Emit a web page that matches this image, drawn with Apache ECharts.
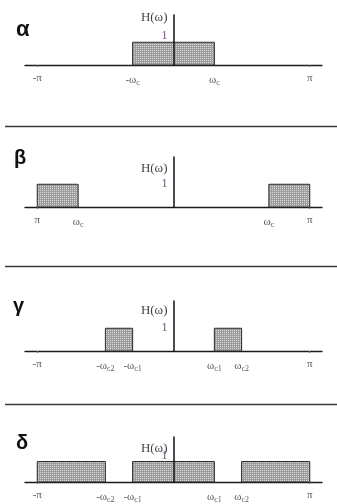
<!DOCTYPE html>
<html><head><meta charset="utf-8">
<script src="https://cdn.jsdelivr.net/npm/echarts@6/dist/echarts.min.js"></script>
<style>html,body{margin:0;padding:0;background:#fff}#c{width:337px;height:504px}</style>
</head><body><div id="c"></div>
<script>
// Values in units of π (x) and gain (y)
const panelNames = ['α', 'β', 'γ', 'δ'];
const bandsA = [[-0.3, 0.3, 1]];
const bandsB = [[-1, -0.7, 1], [0.7, 1, 1]];
const bandsC = [[-0.5, -0.3, 1], [0.3, 0.5, 1]];
const bandsD = [[-1, -0.5, 1], [-0.3, 0.3, 1], [0.5, 1, 1]];
const ticksA = [-1, -0.3, 0.3, 1];
const labelsA = ['-π', '-ω_c', 'ω_c', 'π'];
const ticksB = [-1, -0.7, 0.7, 1];
const labelsB = ['π', 'ω_c', 'ω_c', 'π'];
const ticksC = [-1, -0.5, -0.3, 0.3, 0.5, 1];
const labelsC = ['-π', '-ω_c2', '-ω_c1', 'ω_c1', 'ω_c2', 'π'];
const ticksD = [-1, -0.5, -0.3, 0.3, 0.5, 1];
const labelsD = ['-π', '-ω_c2', '-ω_c1', 'ω_c1', 'ω_c2', 'π'];
const yName = 'H(ω)';
const yTickValue = 1;
const yTickLabel = '1';
const xMin = -1.09, xMax = 1.09;

const bands = [bandsA, bandsB, bandsC, bandsD];
const ticks = [ticksA, ticksB, ticksC, ticksD];
const labels = [labelsA, labelsB, labelsC, labelsD];

// layout (styling only)
const gridLeft = 25, gridWidth = 297;
const gridTops = [15, 157, 301, 437];
const nameGaps = [-3, -12, -10, -12];
const letterTops = [19, 148, 296, 433];
const letterLefts = [16, 14, 13, 16];
const letterSizes = [22, 20, 20, 20];
const oneShift = [6.5, 1, 1, 6];
const sepYs = [126.5, 266.5, 404.5];

// stipple pattern
const pc = document.createElement('canvas');
pc.width = 2; pc.height = 2;
const pctx = pc.getContext('2d');
pctx.fillStyle = '#9c9c9c'; pctx.fillRect(0, 0, 2, 2);
pctx.fillStyle = '#dcdcdc'; pctx.fillRect(0, 0, 1, 1);
const fillPattern = { image: pc, repeat: 'repeat' };

function fmtLabel(s) {
  const i = s.indexOf('_');
  if (i < 0) return '{m|' + s + '}';
  return '{m|' + s.slice(0, i) + '}{s|' + s.slice(i + 1) + '}';
}

const chart = echarts.init(document.getElementById('c'), null, { renderer: 'canvas' });
const grid = [], xAxis = [], yAxis = [], series = [], title = [];
// offset that puts the y axis at x = 0 of the x axis
const yOffset = -gridWidth * (0 - xMin) / (xMax - xMin);
for (let k = 0; k < 4; k++) {
  grid.push({ left: gridLeft, width: gridWidth, top: gridTops[k], height: 50 });
  const tk = ticks[k], lb = labels[k];
  xAxis.push({
    type: 'value', gridIndex: k, min: xMin, max: xMax,
    splitLine: { show: false },
    axisLine: { show: true, lineStyle: { color: '#1a1a1a', width: 1.3 } },
    axisTick: { show: true, customValues: [-1, 1], length: 2, lineStyle: { color: '#777' } },
    axisLabel: {
      customValues: tk, margin: 8,
      formatter: v => { const i = tk.findIndex(t => Math.abs(t - v) < 1e-9); return i < 0 ? '' : fmtLabel(lb[i]); },
      rich: {
        m: { fontFamily: 'Liberation Serif', fontSize: 11, color: '#555' },
        s: { fontFamily: 'Liberation Serif', fontSize: 8, color: '#555', padding: [6, 0, 0, 0] }
      }
    }
  });
  const big = oneShift[k] > 2;
  yAxis.push({
    type: 'value', gridIndex: k, min: 0, max: 2.2, interval: 1, z: 10,
    position: 'left', offset: yOffset,
    splitLine: { show: false },
    axisLine: { show: true, onZero: false, lineStyle: { color: '#111', width: 1.5 } },
    axisTick: { show: false },
    axisLabel: {
      margin: 6, fontFamily: 'Liberation Serif', fontSize: 12, color: '#7a4b8c',
      verticalAlign: big ? 'bottom' : 'middle',
      lineHeight: big ? oneShift[k] * 2 : 14,
      formatter: v => Math.abs(v - yTickValue) < 1e-9 ? yTickLabel : ''
    },
    name: yName, nameLocation: 'end', nameGap: nameGaps[k], nameMoveOverlap: false,
    nameTextStyle: { fontFamily: 'Liberation Serif', fontSize: 13, color: '#444', align: 'right', verticalAlign: 'middle', padding: [0, 6, 0, 0] }
  });
  series.push({
    type: 'custom', xAxisIndex: k, yAxisIndex: k, z: 2,
    data: bands[k],
    renderItem: (params, api) => {
      const p0 = api.coord([api.value(0), api.value(2)]);
      const p1 = api.coord([api.value(1), 0]);
      return {
        type: 'rect',
        shape: { x: p0[0], y: p0[1], width: p1[0] - p0[0], height: p1[1] - p0[1] },
        style: { fill: fillPattern, stroke: '#2a2a2a', lineWidth: 1 }
      };
    }
  });
  title.push({
    text: panelNames[k], left: letterLefts[k], top: letterTops[k], padding: 0,
    textStyle: { fontFamily: 'Liberation Sans', fontWeight: 'bold', fontSize: letterSizes[k], color: '#111' }
  });
}

const graphic = sepYs.map(y => ({
  type: 'line', shape: { x1: 5, y1: y, x2: 337, y2: y },
  style: { stroke: '#3a3a3a', lineWidth: 1.6 }
}));

chart.setOption({ animation: false, backgroundColor: '#fff', title, grid, xAxis, yAxis, series, graphic });
</script></body></html>
